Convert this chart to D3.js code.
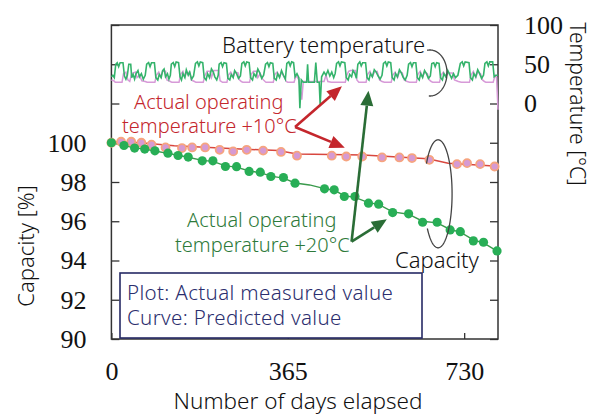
<!DOCTYPE html>
<html>
<head>
<meta charset="utf-8">
<script src="https://cdn.jsdelivr.net/npm/d3@7"></script>
<style>
  body { margin: 0; background: #fff; }
  svg { display: block; }
  .sans { font-family: "Noto Sans", "DejaVu Sans", sans-serif; font-weight: 300; }
  .tick text { font-family: "Liberation Serif", "Times New Roman", serif; fill: #111; }
</style>
</head>
<body>
<svg id="chart" width="593" height="417"></svg>
<script>
/*** DATA ***/

// measured capacity, +10 degC case (plot)
const redDays = [0, 20, 41, 62, 83, 112, 146, 167, 194, 224, 252, 280, 314, 351, 384, 456, 486, 519, 560, 596, 622, 658, 715, 736, 763, 793];
const redCap  = [100.0, 100.05, 100.05, 100.0, 99.9, 99.76, 99.73, 99.76, 99.76, 99.64, 99.56, 99.64, 99.6, 99.53, 99.34, 99.34, 99.3, 99.3, 99.25, 99.25, 99.22, 99.13, 98.91, 98.96, 98.91, 98.79];

// measured capacity, +20 degC case (plot)
const greenDays = [0, 26, 48, 69, 90, 117, 138, 159, 188, 210, 236, 259, 285, 308, 330, 356, 380, 441, 461, 482, 504, 532, 553, 582, 615, 644, 674, 701, 722, 749, 770, 798];
const greenCap  = [100.0, 99.86, 99.73, 99.68, 99.59, 99.47, 99.35, 99.27, 99.08, 99.08, 98.79, 98.78, 98.54, 98.5, 98.28, 98.23, 97.94, 97.65, 97.6, 97.26, 97.26, 96.92, 96.87, 96.44, 96.38, 95.95, 95.95, 95.56, 95.47, 95.0, 94.93, 94.49];

// predicted curves
const redCurveDays = [0, 60, 130, 256, 345, 384, 521, 655, 697, 800];
const redCurveCap  = [100.05, 100.0, 99.85, 99.69, 99.6, 99.43, 99.38, 99.18, 98.96, 98.8];
const greenCurveDays = [0, 26, 48, 69, 90, 117, 138, 159, 188, 210, 236, 259, 285, 308, 330, 356, 380, 410, 441, 461, 482, 504, 532, 553, 582, 615, 644, 674, 701, 722, 749, 770, 800];
const greenCurveCap  = [100.0, 99.86, 99.74, 99.68, 99.58, 99.46, 99.36, 99.26, 99.1, 99.05, 98.82, 98.76, 98.56, 98.48, 98.3, 98.2, 97.95, 97.85, 97.66, 97.58, 97.3, 97.22, 96.95, 96.86, 96.48, 96.36, 96.0, 95.92, 95.58, 95.45, 95.05, 94.9, 94.45];

// battery temperature traces [day, degC]
const tempGreen = [
  [0,34],[3,36],[6,33],[9,50],[12,52],[15,47],[18,52],[24,52],[27,35],[30,31],[33,36],[36,50],[40,50],[42,33],[45,37],[48,31],[51,38],[55,42],[58,34],[62,38],[66,31],[70,36],
  [73,50],[77,52],[80,47],[83,52],[89,52],[92,33],[96,30],[99,37],[103,33],[106,42],[109,44],[112,34],[116,38],[119,31],[122,36],
  [124,50],[128,52],[131,47],[134,53],[139,52],[142,34],[145,30],[148,38],[152,33],[155,43],[159,36],[162,40],[166,31],[170,35],
  [174,51],[178,53],[181,48],[184,53],[189,52],[192,33],[196,30],[199,38],[203,33],[207,44],[211,40],[214,34],[218,30],[221,36],
  [223,50],[227,52],[230,47],[233,52],[238,51],[241,32],[245,30],[248,37],[252,33],[255,42],[259,38],[263,32],[267,35],
  [270,51],[274,53],[277,48],[280,53],[285,52],[288,33],[292,30],[295,38],[299,34],[303,44],[307,39],[311,32],[315,36],
  [319,50],[323,52],[326,47],[329,52],[334,51],[337,32],[341,30],[344,38],[348,33],[352,42],[356,36],[360,31],
  [363,51],[367,53],[370,48],[373,53],[377,52],[380,34],[384,38],[388,33],[390,-6],[393,30],[397,27],[404,27],[406,50],[408,27],[420,27],[423,52],[426,27],[430,27],[432,-2],[435,34],[440,40],[444,36],[448,42],[452,35],[456,40],[460,33],[463,38],
  [466,51],[470,53],[473,48],[476,53],[483,52],[486,33],[490,30],[493,37],[497,34],[500,42],[504,38],[507,32],
  [510,50],[514,53],[517,48],[520,52],[526,52],[529,33],[533,30],[536,38],[540,34],[544,43],[548,40],[552,35],[556,31],[560,36],
  [563,51],[567,53],[570,48],[573,53],[578,52],[581,33],[585,30],[588,38],[592,34],[596,43],[600,39],[604,33],[608,30],[612,36],
  [615,50],[619,52],[622,47],[625,52],[630,52],[633,33],[637,30],[640,38],[644,33],[648,42],[652,38],[656,32],[660,35],
  [663,51],[667,52],[670,47],[673,52],[678,51],[681,33],[685,30],[688,38],[692,34],[696,42],[700,37],[704,32],[708,38],[712,33],[717,36],
  [722,51],[726,53],[729,48],[732,53],[740,52],[743,33],[747,30],[750,38],[754,34],[758,43],[762,38],[766,32],[770,36],
  [773,51],[777,53],[780,48],[783,53],[789,53],[792,34],[796,36],[800,36]
];
const tempPink = [
  [0,30],[5,29],[8,27],[22,27],[25,38],[30,40],[34,30],[38,28],[42,38],[50,40],[53,33],[58,36],[63,29],[70,28],
  [74,27],[90,27],[93,36],[98,40],[102,34],[106,41],[112,41],[115,30],[122,28],
  [125,27],[140,27],[143,37],[148,41],[152,34],[155,39],[162,40],[165,30],[172,28],
  [175,27],[190,27],[193,35],[198,41],[204,41],[207,33],[212,42],[222,42],[225,29],
  [230,27],[239,27],[242,36],[247,40],[252,34],[256,40],[262,39],[265,30],[269,28],
  [272,27],[286,27],[289,37],[294,41],[300,41],[303,33],[308,38],[313,31],[318,28],
  [320,27],[335,27],[338,37],[343,40],[348,34],[352,40],[358,33],[362,28],
  [365,27],[378,27],[382,36],[388,30],[394,5],[397,28],[440,28],[444,36],[448,28],[455,27],[463,27],
  [468,27],[484,27],[487,36],[491,41],[495,42],[505,42],[508,30],
  [512,27],[527,27],[530,37],[535,41],[540,34],[544,40],[550,41],[555,30],[560,28],
  [565,27],[579,27],[582,36],[587,40],[592,33],[596,40],[602,39],[606,30],[612,28],
  [617,27],[631,27],[634,37],[639,41],[644,34],[648,40],[654,38],[658,30],[662,28],
  [665,27],[679,27],[682,36],[687,40],[692,34],[697,39],[706,39],[710,30],[718,28],
  [724,27],[741,27],[744,36],[749,41],[754,33],[758,40],[764,38],[768,30],[772,28],
  [775,27],[790,27],[794,36],[797,33],[800,-8]
];

// ticks
const capTicks = [90, 92, 94, 96, 98, 100, 102, 104, 106];
const tempTicks = [-300, -250, -200, -150, -100, -50, 0, 50, 100];
const dayTicks = [0, 365, 730];

/*** SCALES ***/

const svg = d3.select("#chart");
const plot = {left: 111.4, right: 498, top: 25, bottom: 339};

const x = d3.scaleLinear().domain([0, 800]).range([plot.left, plot.right]);
const y = d3.scaleLinear().domain([90, 106]).range([plot.bottom, plot.top]);
const yT = d3.scaleLinear().domain([-300, 100]).range([plot.bottom, plot.top]);

/*** AXES ***/

svg.append("g")
  .attr("transform", `translate(${plot.left},0)`)
  .call(d3.axisLeft(y).tickValues(capTicks).tickSizeInner(-8).tickSizeOuter(0).tickPadding(25)
    .tickFormat(d => d <= 100 ? d : ""))
  .call(g => g.select(".domain").remove())
  .call(g => g.selectAll("line").attr("stroke", "#333").attr("stroke-width", 1.3))
  .call(g => g.selectAll("text").attr("font-size", 26));

svg.append("g")
  .attr("transform", `translate(${plot.right},0)`)
  .call(d3.axisRight(yT).tickValues(tempTicks).tickSizeInner(-8).tickSizeOuter(0).tickPadding(26)
    .tickFormat(d => d >= 0 ? d : ""))
  .call(g => g.select(".domain").remove())
  .call(g => g.selectAll("line").attr("stroke", "#333").attr("stroke-width", 1.3))
  .call(g => g.selectAll("text").attr("font-size", 26));

svg.append("g")
  .attr("transform", `translate(0,${plot.bottom})`)
  .call(d3.axisBottom(x).tickValues(dayTicks).tickSizeInner(-6).tickSizeOuter(0).tickPadding(23))
  .call(g => g.select(".domain").remove())
  .call(g => g.selectAll("line").attr("stroke", "#333").attr("stroke-width", 1.3))
  .call(g => g.selectAll("text").attr("font-size", 26));

// frame
svg.append("rect")
  .attr("x", plot.left).attr("y", plot.top)
  .attr("width", plot.right - plot.left).attr("height", plot.bottom - plot.top)
  .attr("fill", "none").attr("stroke", "#333").attr("stroke-width", 1.5);

// axis titles
svg.append("text").attr("class", "sans")
  .attr("transform", `translate(34,246) rotate(-90)`)
  .attr("text-anchor", "middle").attr("font-size", 22).attr("fill", "#111")
  .text("Capacity [%]");

svg.append("text").attr("class", "sans")
  .attr("transform", `translate(570,104) rotate(90)`)
  .attr("text-anchor", "middle").attr("font-size", 21).attr("fill", "#111")
  .text("Temperature [°C]");

svg.append("text").attr("class", "sans")
  .attr("x", 298).attr("y", 409)
  .attr("text-anchor", "middle").attr("font-size", 22.5).attr("fill", "#111")
  .text("Number of days elapsed");

/*** TEMPERATURE TRACES ***/

const tLine = d3.line().x(d => x(d[0])).y(d => yT(d[1]));

svg.append("path").datum(tempPink)
  .attr("d", tLine).attr("fill", "none")
  .attr("stroke", "#d79ad8").attr("stroke-width", 1.5);

svg.append("path").datum(tempGreen)
  .attr("d", tLine).attr("fill", "none")
  .attr("stroke", "#34b36b").attr("stroke-width", 1.6);

/*** CAPACITY CURVES AND PLOTS ***/

const cLine = d3.line().x(d => x(d[0])).y(d => y(d[1]));

svg.append("path").datum(d3.zip(redCurveDays, redCurveCap))
  .attr("d", cLine).attr("fill", "none")
  .attr("stroke", "#d8473f").attr("stroke-width", 1.5);

svg.append("path").datum(d3.zip(greenCurveDays, greenCurveCap))
  .attr("d", cLine).attr("fill", "none")
  .attr("stroke", "#3a9a4c").attr("stroke-width", 1.4);

svg.append("g").selectAll("circle")
  .data(d3.zip(redDays, redCap))
  .join("circle")
    .attr("cx", d => x(d[0])).attr("cy", d => y(d[1])).attr("r", 4)
    .attr("fill", "#d69ad3").attr("stroke", "#f6a47f").attr("stroke-width", 1.8);

svg.append("g").selectAll("circle")
  .data(d3.zip(greenDays, greenCap))
  .join("circle")
    .attr("cx", d => x(d[0])).attr("cy", d => y(d[1])).attr("r", 4.6)
    .attr("fill", "#28ae56");

/*** ANNOTATIONS ***/

//arrow from a shared vertex to a tip, both in [day, capacity]
function arrow(from, to, color) {
  const x1 = x(from[0]), y1 = y(from[1]), x2 = x(to[0]), y2 = y(to[1]);
  const a = Math.atan2(y2 - y1, x2 - x1), L = 15, W = 6.5;
  const bx = x2 - L * Math.cos(a), by = y2 - L * Math.sin(a);
  svg.append("line")
    .attr("x1", x1).attr("y1", y1).attr("x2", bx).attr("y2", by)
    .attr("stroke", color).attr("stroke-width", 2.6);
  svg.append("polygon")
    .attr("points", [[x2, y2], [bx + W * Math.sin(a), by - W * Math.cos(a)], [bx - W * Math.sin(a), by + W * Math.cos(a)]].join(" "))
    .attr("fill", color);
}

const redVertex = [380, 100.8];
arrow(redVertex, [477, 102.88], "#c4262c");
arrow(redVertex, [483, 99.75], "#c4262c");

const greenVertex = [497, 94.96];
arrow(greenVertex, [532, 102.65], "#2a6d36");
arrow(greenVertex, [570, 96.1], "#2a6d36");

function textLines(lines, x0, y0, dy, color, size) {
  lines.forEach((t, i) => {
    svg.append("text").attr("class", "sans")
      .attr("x", x0[i]).attr("y", y0 + i * dy)
      .attr("font-size", size).attr("fill", color)
      .text(t);
  });
}

textLines(["Actual operating", "temperature +10°C"], [134, 122], 108.5, 24.5, "#c4262c", 20);
textLines(["Actual operating", "temperature +20°C"], [187, 175], 227, 25, "#2e7a3a", 20);

svg.append("text").attr("class", "sans")
  .attr("x", 222).attr("y", 53).attr("font-size", 22).attr("fill", "#111")
  .text("Battery temperature");

svg.append("text").attr("class", "sans")
  .attr("x", 395).attr("y", 268).attr("font-size", 22).attr("fill", "#111")
  .text("Capacity");

// bracket for the temperature traces
function ellArc(cx, cy, rx, ry, t0, t1) {
  const pts = d3.range(t0, t1 + 0.5, 2).map(t => {
    const r = t * Math.PI / 180;
    return [cx + rx * Math.cos(r), cy + ry * Math.sin(r)];
  });
  return d3.line()(pts);
}

svg.append("path")
  .attr("d", ellArc(430, 73, 17, 23, -100, 95))
  .attr("fill", "none").attr("stroke", "#444").attr("stroke-width", 1.3);

// lasso round the capacity data
svg.append("path")
  .attr("d", ellArc(x(676), y(97.4), 14, 54, 214, 500))
  .attr("fill", "none").attr("stroke", "#444").attr("stroke-width", 1.3);

// legend box
svg.append("rect")
  .attr("x", 120).attr("y", 273).attr("width", 302).attr("height", 65)
  .attr("fill", "#fff").attr("stroke", "#262a64").attr("stroke-width", 1.6);

textLines(["Plot: Actual measured value", "Curve: Predicted value"], [127, 127], 299.5, 25, "#2b2e6e", 20.5);
svg.selectAll("text").filter(function() { return this.getAttribute("fill") === "#2b2e6e"; })
  .attr("letter-spacing", 0.35);
</script>
</body>
</html>
